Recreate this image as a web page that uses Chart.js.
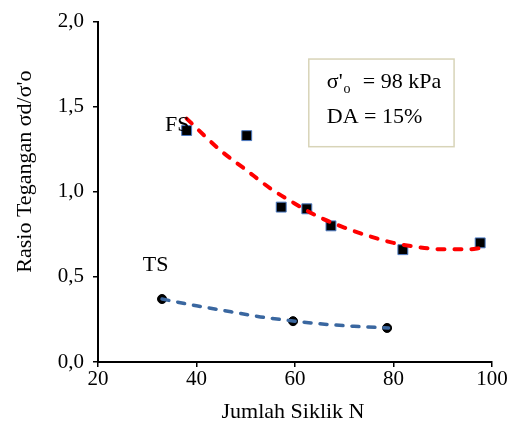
<!DOCTYPE html>
<html>
<head>
<meta charset="utf-8">
<script src="https://cdn.jsdelivr.net/npm/chart.js@4"></script>
<style>
html,body{margin:0;padding:0;background:#fff;}
#wrap{width:511px;height:433px;position:relative;}
</style>
</head>
<body>
<div id="wrap"><canvas id="c" width="511" height="433"></canvas></div>
<script>
// Measured data
const fsN = [38, 50.2, 57.2, 62.4, 67.3, 81.9, 97.6];
const fsRatio = [1.36, 1.33, 0.91, 0.90, 0.80, 0.66, 0.70];
const tsN = [33.0, 59.6, 78.7];
const tsRatio = [0.37, 0.24, 0.20];
// Trend curves
const fsTrendN = [38, 45, 50, 55, 60, 65, 70, 75, 80, 85, 90, 95, 98];
const fsTrendRatio = [1.43, 1.24, 1.13, 1.02, 0.93, 0.85, 0.79, 0.74, 0.70, 0.675, 0.662, 0.662, 0.67];
const tsTrendN = [33, 40, 47, 53, 60, 66, 72, 79];
const tsTrendRatio = [0.37, 0.33, 0.295, 0.265, 0.24, 0.222, 0.21, 0.20];
const xTicks = [20, 40, 60, 80, 100];
const yTicks = [0, 0.5, 1.0, 1.5, 2.0];
const xTitle = 'Jumlah Siklik N';
const yTitle = "Rasio Tegangan σd/σ'o";

const toXY = (xs, ys) => xs.map((x, i) => ({x: x, y: ys[i]}));
const FONT = "'Liberation Serif', 'Times New Roman', serif";

const annot = {
  id: 'annot',
  afterDraw(chart) {
    const ctx = chart.ctx;
    const xs = chart.scales.x, ys = chart.scales.y;
    const ca = chart.chartArea;
    ctx.save();
    ctx.fillStyle = '#000';
    ctx.textBaseline = 'middle';
    // axis titles
    ctx.font = '22px ' + FONT;
    ctx.textAlign = 'center';
    ctx.fillText(xTitle, (ca.left + ca.right) / 2 - 2, ca.bottom + 50);
    ctx.save();
    ctx.translate(25, ca.top + 150);
    ctx.rotate(-Math.PI / 2);
    ctx.fillText(yTitle, 0, 0);
    ctx.restore();
    // series labels
    ctx.textAlign = 'left';
    ctx.font = '22px ' + FONT;
    ctx.fillText('FS', xs.getPixelForValue(33.6), ys.getPixelForValue(1.39));
    ctx.fillText('TS', xs.getPixelForValue(29.1), ys.getPixelForValue(0.57));
    // box
    const bx1 = xs.getPixelForValue(62.8), bx2 = xs.getPixelForValue(92.3);
    const by1 = ys.getPixelForValue(1.78), by2 = ys.getPixelForValue(1.265);
    ctx.fillStyle = '#fff';
    ctx.fillRect(bx1, by1, bx2 - bx1, by2 - by1);
    ctx.strokeStyle = '#D8D4B8';
    ctx.lineWidth = 1.5;
    ctx.strokeRect(bx1, by1, bx2 - bx1, by2 - by1);
    ctx.fillStyle = '#000';
    const tx = bx1 + 18;
    const l1y = by1 + 23, l2y = by1 + 58;
    ctx.font = '22px ' + FONT;
    ctx.fillText("σ'", tx, l1y);
    const w1 = ctx.measureText("σ'").width;
    ctx.font = '14px ' + FONT;
    ctx.fillText('o', tx + w1 + 1, l1y + 7);
    ctx.font = '22px ' + FONT;
    ctx.fillText('= 98 kPa', tx + 36, l1y);
    ctx.fillText('DA = 15%', tx, l2y);
    ctx.restore();
  }
};

new Chart(document.getElementById('c'), {
  type: 'scatter',
  data: {
    datasets: [
      {
        label: 'FS trend',
        data: toXY(fsTrendN, fsTrendRatio),
        showLine: true,
        borderColor: '#FF0000',
        borderWidth: 4,
        borderDash: [7, 10],
        borderCapStyle: 'round',
        pointRadius: 0,
        cubicInterpolationMode: 'monotone',
        fill: false
      },
      {
        label: 'TS trend',
        data: toXY(tsTrendN, tsTrendRatio),
        showLine: true,
        borderColor: '#3A67A0',
        borderWidth: 3.5,
        borderDash: [7, 9],
        borderCapStyle: 'round',
        pointRadius: 0,
        cubicInterpolationMode: 'monotone',
        fill: false
      },
      {
        label: 'FS',
        data: toXY(fsN, fsRatio),
        pointStyle: 'rect',
        pointRadius: 7,
        backgroundColor: '#000',
        borderColor: '#4A78C0',
        borderWidth: 1
      },
      {
        label: 'TS',
        data: toXY(tsN, tsRatio),
        pointStyle: 'circle',
        pointRadius: 4.5,
        backgroundColor: '#000',
        borderColor: '#000',
        borderWidth: 1
      }
    ]
  },
  options: {
    responsive: false,
    animation: false,
    layout: {padding: {top: 18, right: 19, left: 0, bottom: 0}},
    plugins: {legend: {display: false}, tooltip: {enabled: false}},
    scales: {
      x: {
        type: 'linear',
        min: 20, max: 100,
        afterBuildTicks: s => { s.ticks = xTicks.map(v => ({value: v})); },
        afterFit: s => { s.height = 71; },
        border: {color: '#000', width: 2},
        grid: {drawOnChartArea: false, drawTicks: true, tickLength: 5, tickColor: '#000', lineWidth: 1.5},
        ticks: {color: '#000', font: {family: FONT, size: 21}, padding: 0, maxRotation: 0},
        title: {display: false}
      },
      y: {
        type: 'linear',
        min: 0, max: 2,
        afterBuildTicks: s => { s.ticks = yTicks.map(v => ({value: v})); },
        afterFit: s => { s.width = 98; },
        border: {color: '#000', width: 2},
        grid: {drawOnChartArea: false, drawTicks: true, tickLength: 5, tickColor: '#000', lineWidth: 1.5},
        ticks: {color: '#000', font: {family: FONT, size: 21}, padding: 9,
          callback: v => v.toFixed(1).replace('.', ',')},
        title: {display: false}
      }
    }
  },
  plugins: [annot]
});
</script>
</body>
</html>
